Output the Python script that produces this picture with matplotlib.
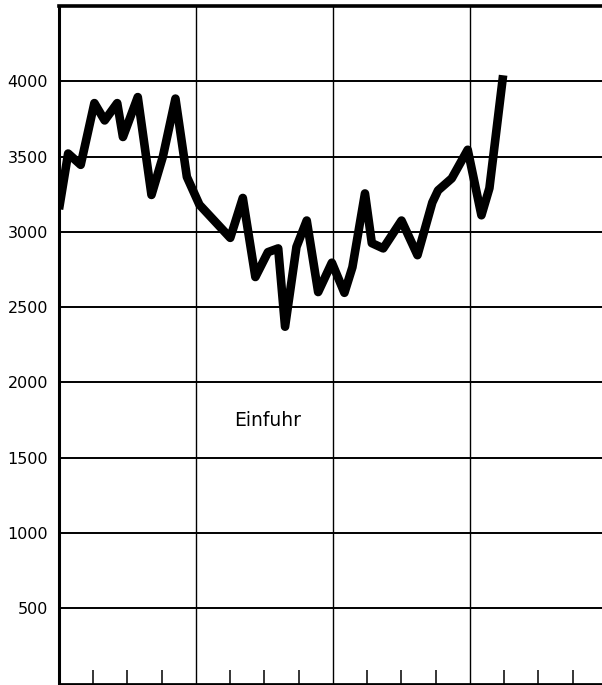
import matplotlib
matplotlib.use("Agg")
import matplotlib.pyplot as plt

# Monate ab Beginn des ersten Jahres und Einfuhrwerte
months = [0, 0.8, 1.9, 3.1, 4.0, 5.1, 5.6, 6.9, 8.1, 9.1, 10.2, 11.2, 12.3,
          15.0, 16.1, 17.2, 18.3, 19.2, 19.8, 20.8, 21.7, 22.7, 23.9,
          25.0, 25.7, 26.8, 27.4, 28.4, 30.0, 31.4, 32.7, 33.2, 34.4, 35.8,
          37.0, 37.7, 38.9]
values = [3150, 3520, 3445, 3855, 3740, 3855, 3630, 3895, 3245, 3500, 3885, 3365, 3180,
          2960, 3225, 2700, 2865, 2890, 2370, 2900, 3075, 2600, 2795,
          2595, 2765, 3255, 2925, 2890, 3075, 2845, 3195, 3275, 3355, 3545,
          3110, 3290, 4040]

y_ticks = [500, 1000, 1500, 2000, 2500, 3000, 3500, 4000]
year_lines = [12, 24, 36]
quarter_ticks = [3, 6, 9, 15, 18, 21, 27, 30, 33, 39, 42, 45]
label = "Einfuhr"

fig = plt.figure(figsize=(6.02, 6.85), dpi=100)
ax = fig.add_axes([59 / 602, 1.5 / 685, 548 / 602, 677.5 / 685])

for v in y_ticks:
    ax.axhline(v, color="black", lw=1.4, zorder=1)
for m in year_lines:
    ax.axvline(m, color="black", lw=1.0, zorder=1)

ax.plot(months, values, color="black", lw=6.2,
        solid_joinstyle="round", solid_capstyle="butt", zorder=3)

ax.text(18.3, 1750, label, ha="center", va="center", fontsize=13.5)

ax.set_xlim(0, 48)
ax.set_ylim(0, 4500)
ax.set_yticks(y_ticks)
ax.set_yticklabels([str(v) for v in y_ticks], fontsize=11.5)
ax.tick_params(axis="y", length=0, pad=8)
ax.set_xticks(quarter_ticks)
ax.set_xticklabels([])
ax.tick_params(axis="x", direction="in", length=10, width=1.1)

ax.spines["right"].set_visible(False)
ax.spines["top"].set_linewidth(2.6)
ax.spines["left"].set_linewidth(2.2)
ax.spines["bottom"].set_linewidth(2.0)

fig.savefig("out.png", dpi=100)
